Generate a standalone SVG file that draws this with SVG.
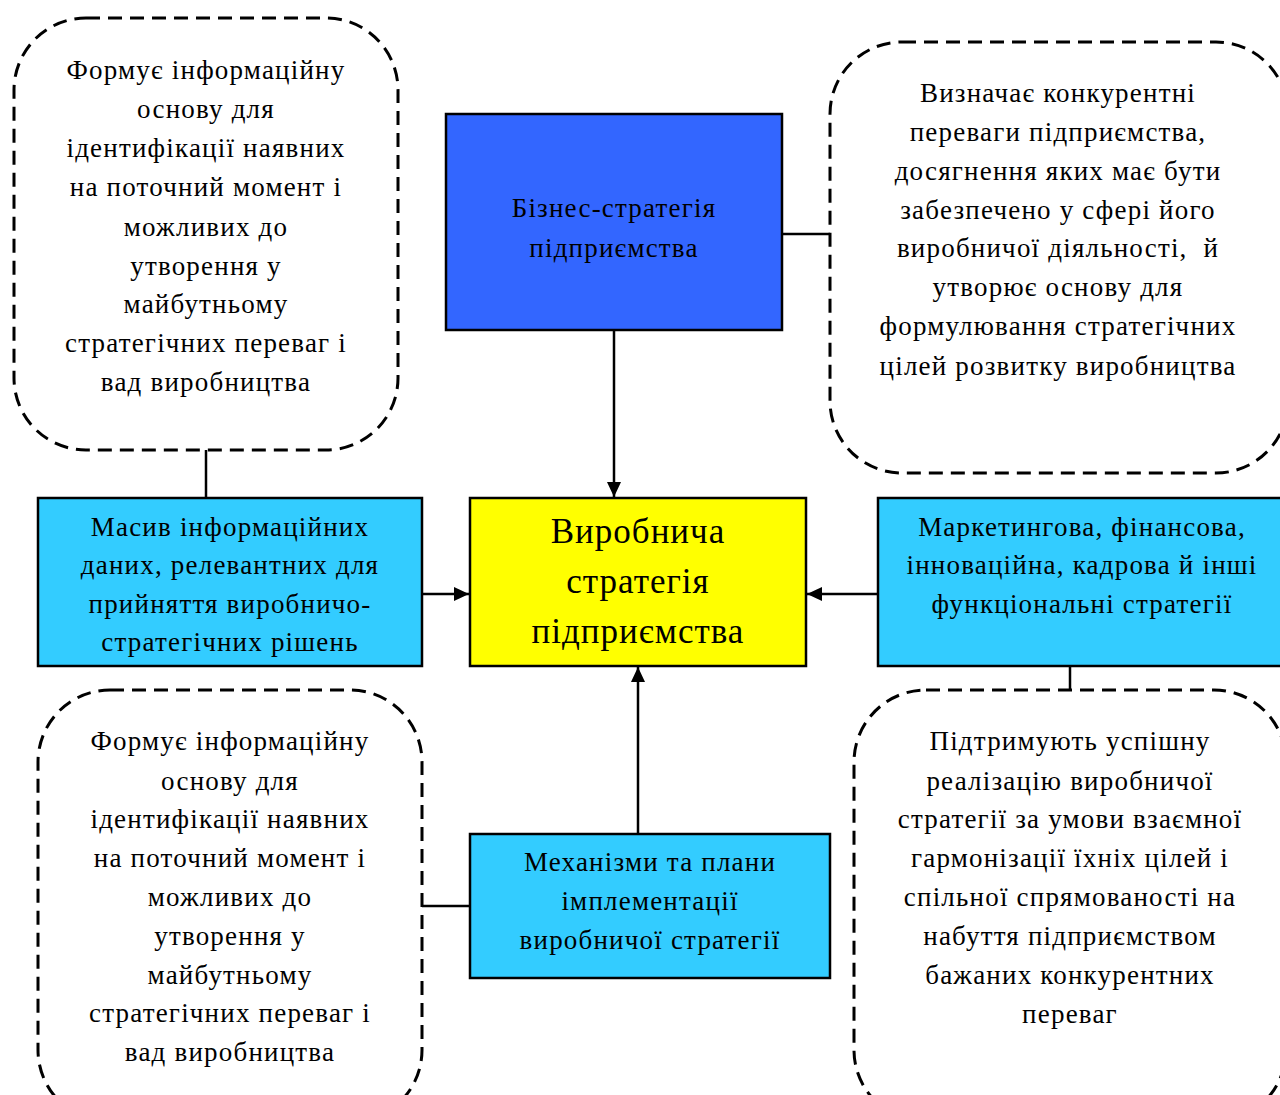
<svg xmlns="http://www.w3.org/2000/svg" width="1280" height="1095" viewBox="0 0 1280 1095">
<defs>
<marker id="arr" markerWidth="15" markerHeight="14" refX="15" refY="7" orient="auto" markerUnits="userSpaceOnUse">
<path d="M0,0 L15,7 L0,14 Z" fill="#000"/>
</marker>
<style>
.dash{fill:#fff;stroke:#000;stroke-width:3;stroke-dasharray:14 8}
.box{stroke:#000;stroke-width:2.5}
.t{font-family:"Liberation Serif","Times New Roman",serif;font-size:27px;letter-spacing:1.2px;fill:#000;text-anchor:middle}
.big{font-size:35px;letter-spacing:1px}
.ln{stroke:#000;stroke-width:2.5;fill:none}
</style>
</defs>
<rect width="1280" height="1095" fill="#fff"/>

<g id="connectors">
<line class="ln" x1="206" y1="450" x2="206" y2="498"/>
<line class="ln" x1="782" y1="234" x2="830" y2="234"/>
<line class="ln" x1="614" y1="330" x2="614" y2="497" marker-end="url(#arr)"/>
<line class="ln" x1="422" y1="594" x2="469" y2="594" marker-end="url(#arr)"/>
<line class="ln" x1="878" y1="594" x2="807" y2="594" marker-end="url(#arr)"/>
<line class="ln" x1="638" y1="834" x2="638" y2="667" marker-end="url(#arr)"/>
<line class="ln" x1="1070" y1="666" x2="1070" y2="690"/>
<line class="ln" x1="422" y1="906" x2="470" y2="906"/>
</g>

<g id="note-top-left">
<rect class="dash" x="14" y="18" width="384" height="432" rx="72"/>
<text class="t" x="206" y="79">Формує інформаційну</text>
<text class="t" x="206" y="118">основу для</text>
<text class="t" x="206" y="157">ідентифікації наявних</text>
<text class="t" x="206" y="196">на поточний момент і</text>
<text class="t" x="206" y="236">можливих до</text>
<text class="t" x="206" y="275">утворення у</text>
<text class="t" x="206" y="313">майбутньому</text>
<text class="t" x="206" y="352">стратегічних переваг і</text>
<text class="t" x="206" y="391">вад виробництва</text>
</g>

<g id="business-strategy">
<rect class="box" x="446" y="114" width="336" height="216" fill="#3366FF"/>
<text class="t" x="614" y="217">Бізнес-стратегія</text>
<text class="t" x="614" y="257">підприємства</text>
</g>

<g id="note-top-right">
<rect class="dash" x="830" y="42" width="458" height="431" rx="72"/>
<text class="t" x="1058" y="102">Визначає конкурентні</text>
<text class="t" x="1058" y="141">переваги підприємства,</text>
<text class="t" x="1058" y="180">досягнення яких має бути</text>
<text class="t" x="1058" y="219">забезпечено у сфері його</text>
<text class="t" x="1058" y="257" xml:space="preserve">виробничої діяльності,  й</text>
<text class="t" x="1058" y="296">утворює основу для</text>
<text class="t" x="1058" y="335">формулювання стратегічних</text>
<text class="t" x="1058" y="375">цілей розвитку виробництва</text>
</g>

<g id="info-array">
<rect class="box" x="38" y="498" width="384" height="168" fill="#33CCFF"/>
<text class="t" x="230" y="536">Масив інформаційних</text>
<text class="t" x="230" y="574">даних, релевантних для</text>
<text class="t" x="230" y="613">прийняття виробничо-</text>
<text class="t" x="230" y="651">стратегічних рішень</text>
</g>

<g id="production-strategy">
<rect class="box" x="470" y="498" width="336" height="168" fill="#FFFF00"/>
<text class="t big" x="638" y="543">Виробнича</text>
<text class="t big" x="638" y="593">стратегія</text>
<text class="t big" x="638" y="643">підприємства</text>
</g>

<g id="functional-strategies">
<rect class="box" x="878" y="498" width="410" height="168" fill="#33CCFF"/>
<text class="t" x="1082" y="536">Маркетингова, фінансова,</text>
<text class="t" x="1082" y="574">інноваційна, кадрова й інші</text>
<text class="t" x="1082" y="613">функціональні стратегії</text>
</g>

<g id="mechanisms">
<rect class="box" x="470" y="834" width="360" height="144" fill="#33CCFF"/>
<text class="t" x="650" y="871">Механізми та плани</text>
<text class="t" x="650" y="910">імплементації</text>
<text class="t" x="650" y="949">виробничої стратегії</text>
</g>

<g id="note-bottom-left">
<rect class="dash" x="38" y="690" width="384" height="432" rx="72"/>
<text class="t" x="230" y="750">Формує інформаційну</text>
<text class="t" x="230" y="790">основу для</text>
<text class="t" x="230" y="828">ідентифікації наявних</text>
<text class="t" x="230" y="867">на поточний момент і</text>
<text class="t" x="230" y="906">можливих до</text>
<text class="t" x="230" y="945">утворення у</text>
<text class="t" x="230" y="984">майбутньому</text>
<text class="t" x="230" y="1022">стратегічних переваг і</text>
<text class="t" x="230" y="1061">вад виробництва</text>
</g>

<g id="note-bottom-right">
<rect class="dash" x="854" y="690" width="432" height="432" rx="72"/>
<text class="t" x="1070" y="750">Підтримують успішну</text>
<text class="t" x="1070" y="790">реалізацію виробничої</text>
<text class="t" x="1070" y="828">стратегії за умови взаємної</text>
<text class="t" x="1070" y="867">гармонізації їхніх цілей і</text>
<text class="t" x="1070" y="906">спільної спрямованості на</text>
<text class="t" x="1070" y="945">набуття підприємством</text>
<text class="t" x="1070" y="984">бажаних конкурентних</text>
<text class="t" x="1070" y="1023">переваг</text>
</g>
</svg>
